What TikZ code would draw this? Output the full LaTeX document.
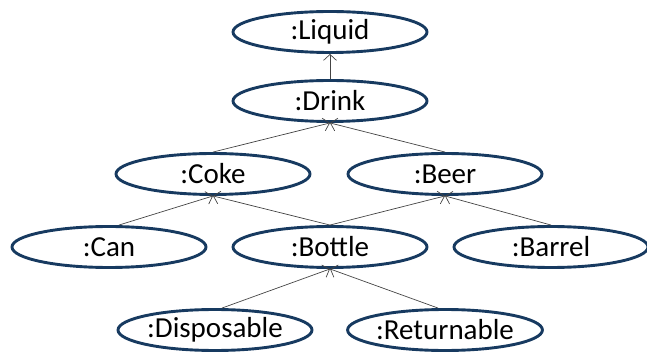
\documentclass[tikz,border=0pt]{standalone}
\usepackage{fontspec}
\setmainfont{Carlito}
\usetikzlibrary{shapes.geometric,arrows.meta}
\definecolor{ellblue}{HTML}{173A60}
\definecolor{edgegray}{HTML}{444444}
\tikzset{
  obj/.style={ellipse, draw=ellblue, line width=2.9pt, minimum width=194pt, minimum height=41pt, inner sep=0pt, font=\fontsize{29}{30}\selectfont},
  gen/.style={draw=edgegray, line width=0.7pt, -{Straight Barb[length=6pt,width=13pt,line width=0.7pt]}}
}
\begin{document}
\begin{tikzpicture}[x=1pt,y=-1pt]
\useasboundingbox (0,0) rectangle (647,352);
\node[obj] (liquid) at (330,32) {:Liquid};
\node[obj] (drink) at (330,101) {:Drink};
\node[obj] (coke) at (213,174) {:Coke};
\node[obj] (beer) at (445,174) {:Beer};
\node[obj] (can) at (109,247) {:Can};
\node[obj] (bottle) at (330,247) {:Bottle};
\node[obj] (barrel) at (551,247) {:Barrel};
\node[obj] (disp) at (215,330) {:Disposable};
\node[obj] (ret) at (445,330) {:Returnable};
\draw[gen] (drink.north) -- (liquid.south);
\draw[gen] (coke.north) -- (drink.south);
\draw[gen] (beer.north) -- (drink.south);
\draw[gen] ([xshift=10pt]can.north) -- (coke.south);
\draw[gen] (bottle.north) -- (coke.south);
\draw[gen] (bottle.north) -- (beer.south);
\draw[gen] (barrel.north) -- (beer.south);
\draw[gen] ([xshift=7pt]disp.north) -- (bottle.south);
\draw[gen] ([xshift=-7pt]ret.north) -- (bottle.south);
\end{tikzpicture}
\end{document}
